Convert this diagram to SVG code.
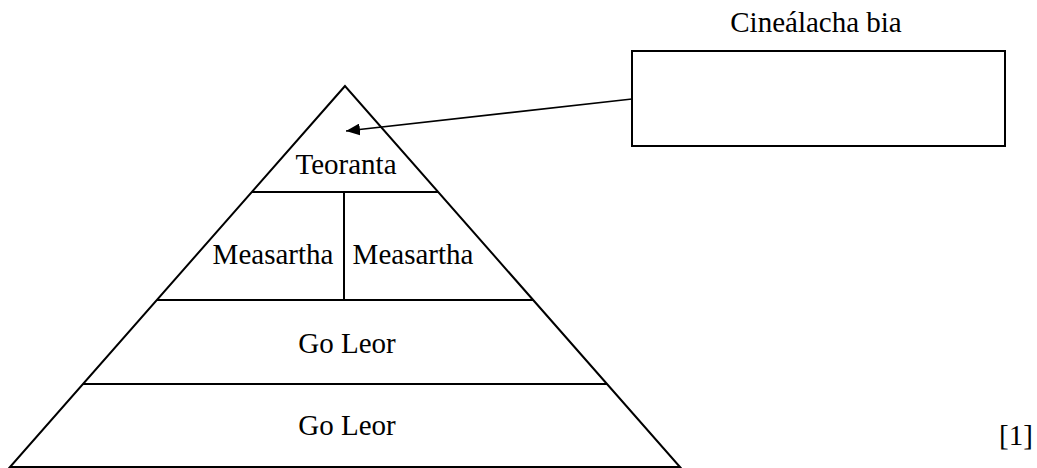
<svg xmlns="http://www.w3.org/2000/svg" width="1037" height="468" viewBox="0 0 1037 468">
<defs>
<style>
.ln{stroke:#000;stroke-width:2;fill:none}
.t{font-family:"Liberation Serif","Times New Roman",serif;font-size:29px;fill:#000;text-anchor:middle}
</style>
<marker id="ah" markerUnits="userSpaceOnUse" markerWidth="16" markerHeight="12" refX="14" refY="6" orient="auto">
<path d="M0,0 L14,6 L0,12 Z" fill="#000"/>
</marker>
</defs>
<rect width="1037" height="468" fill="#fff"/>
<g id="pyramid">
<path class="ln" d="M345,86 L10,467 L680,467 Z" stroke-linejoin="miter"/>
</g>
<g id="teoranta">
<text class="t" x="346" y="174">Teoranta</text>
</g>
<g id="measartha-row">
<line class="ln" x1="252" y1="192" x2="438" y2="192"/>
<line class="ln" x1="344" y1="192" x2="344" y2="300"/>
<line class="ln" x1="157" y1="300" x2="533" y2="300"/>
<text class="t" x="273" y="264">Measartha</text>
<text class="t" x="413" y="264">Measartha</text>
</g>
<g id="goleor1">
<text class="t" x="347" y="353">Go Leor</text>
</g>
<g id="goleor2">
<line class="ln" x1="83" y1="384" x2="607" y2="384"/>
<text class="t" x="347" y="435">Go Leor</text>
</g>
<g id="box">
<rect class="ln" x="632" y="51" width="373" height="95"/>
<text class="t" x="816" y="32">Cineálacha bia</text>
</g>
<g id="mark">
<text class="t" x="1016" y="445">[1]</text>
</g>
<g id="connectors">
<line x1="632" y1="99" x2="346" y2="131" stroke="#000" stroke-width="1.6" marker-end="url(#ah)"/>
</g>
</svg>
